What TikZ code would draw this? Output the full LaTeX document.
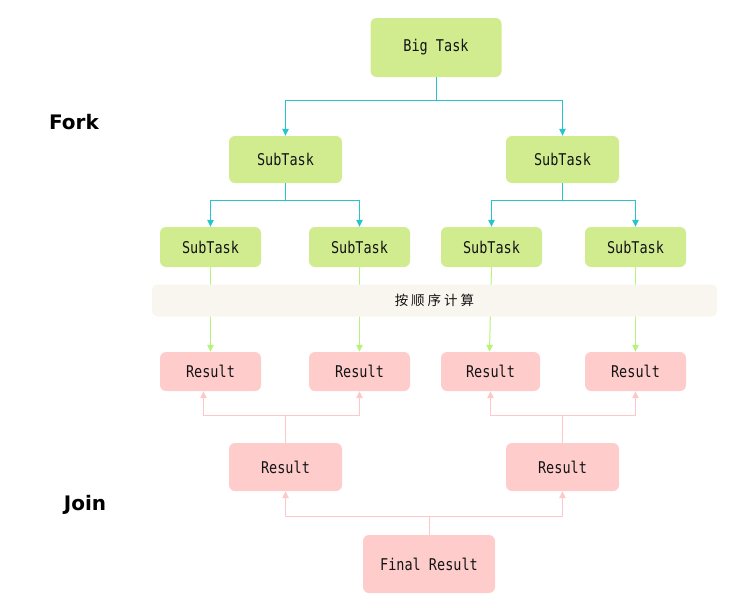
\documentclass[tikz,border=0pt]{standalone}
\usepackage{fontspec}
\setmonofont{DejaVu Sans Mono}
\newfontfamily\cjkf{Noto Sans CJK SC}
\newfontfamily\labf{DejaVu Sans}
\usetikzlibrary{arrows.meta}
\newcommand{\talltext}[1]{\scalebox{1}[1.2]{#1}}
\definecolor{gbox}{RGB}{209,235,143}
\definecolor{pbox}{RGB}{255,204,204}
\definecolor{cyl}{RGB}{40,196,204}
\definecolor{gln}{RGB}{183,242,122}
\definecolor{pln}{RGB}{255,200,200}
\definecolor{band}{RGB}{248,246,238}
\definecolor{txt}{RGB}{20,20,20}
\tikzset{
  box/.style={rounded corners=6pt, inner sep=0pt, text=txt, font=\ttfamily\fontsize{13.5}{16}\selectfont},
  gtask/.style={box, fill=gbox},
  pres/.style={box, fill=pbox},
  cyarr/.style={draw=cyl, line width=1pt, -{Triangle[length=7pt,width=6.5pt]}},
  cyln/.style={draw=cyl, line width=1pt},
  garr/.style={draw=gln, line width=1pt, -{Triangle[length=7pt,width=6.5pt]}},
  parr/.style={draw=pln, line width=1pt, -{Triangle[length=7pt,width=6.5pt]}},
  pln2/.style={draw=pln, line width=1pt},
  lab/.style={font=\labf\bfseries\fontsize{20}{24}\selectfont, text=black}
}
\begin{document}
\begin{tikzpicture}[x=1pt,y=-1pt]
\useasboundingbox (0,0) rectangle (748,616);
% level 1
\node[gtask, minimum width=131pt, minimum height=59pt] (big) at (436,47.5) {\talltext{Big Task}};
% level 2
\node[gtask, minimum width=113pt, minimum height=47pt] (s1) at (285.5,159.5) {\talltext{SubTask}};
\node[gtask, minimum width=113pt, minimum height=47pt] (s2) at (562.5,159.5) {\talltext{SubTask}};
% level 3
\node[gtask, minimum width=101pt, minimum height=40pt] (t1) at (210.5,247) {\talltext{SubTask}};
\node[gtask, minimum width=101pt, minimum height=40pt] (t2) at (359.5,247) {\talltext{SubTask}};
\node[gtask, minimum width=101pt, minimum height=40pt] (t3) at (491.5,247) {\talltext{SubTask}};
\node[gtask, minimum width=101pt, minimum height=40pt] (t4) at (635.5,247) {\talltext{SubTask}};
% results level 4
\node[pres, minimum width=101pt, minimum height=39pt] (r1) at (210.5,371.5) {\talltext{Result}};
\node[pres, minimum width=101pt, minimum height=39pt] (r2) at (359.5,371.5) {\talltext{Result}};
\node[pres, minimum width=99pt, minimum height=39pt] (r3) at (490.5,371.5) {\talltext{Result}};
\node[pres, minimum width=101pt, minimum height=39pt] (r4) at (635.5,371.5) {\talltext{Result}};
% results level 5
\node[pres, minimum width=113pt, minimum height=48pt] (q1) at (285.5,467) {\talltext{Result}};
\node[pres, minimum width=113pt, minimum height=48pt] (q2) at (562.5,467) {\talltext{Result}};
% final
\node[pres, minimum width=132pt, minimum height=58pt] (fin) at (429,564) {\talltext{Final Result}};
% labels
\node[lab] (fork) at (74,122) {Fork};
\node[lab] (join) at (85,505) {Join};
% fork connectors
\draw[cyln] (big.south) -- ++(0,23) coordinate (bj);
\draw[cyarr] (bj) -| (s1.north);
\draw[cyarr] (bj) -| (s2.north);
\draw[cyln] (s1.south) -- ++(0,17) coordinate (s1j);
\draw[cyarr] (s1j) -| (t1.north);
\draw[cyarr] (s1j) -| (t2.north);
\draw[cyln] (s2.south) -- ++(0,17) coordinate (s2j);
\draw[cyarr] (s2j) -| (t3.north);
\draw[cyarr] (s2j) -| (t4.north);
% compute connectors
\draw[garr] (t1.south) -- (r1.north);
\draw[garr] (t2.south) -- (r2.north);
\draw[garr] (t3.south) -- ([xshift=-1pt]r3.north);
\draw[garr] (t4.south) -- (r4.north);
% band
\node[fill=band, rounded corners=5pt, minimum width=565pt, minimum height=32pt, inner sep=0pt, text=txt, font=\cjkf\fontsize{13.5}{16}\selectfont] (bd) at (434.5,300.5) {按\hspace{3pt}顺\hspace{3pt}序\hspace{3pt}计\hspace{3pt}算};
% join connectors
\draw[pln2] (q1.north) -- ++(0,-27) coordinate (q1j);
\draw[parr] (q1j) -| ([xshift=-7pt]r1.south);
\draw[parr] (q1j) -| (r2.south);
\draw[pln2] (q2.north) -- ++(0,-27) coordinate (q2j);
\draw[parr] (q2j) -| (r3.south);
\draw[parr] (q2j) -| (r4.south);
\draw[pln2] (fin.north) -- ++(0,-18) coordinate (fj);
\draw[parr] (fj) -| (q1.south);
\draw[parr] (fj) -| (q2.south);
\end{tikzpicture}
\end{document}
